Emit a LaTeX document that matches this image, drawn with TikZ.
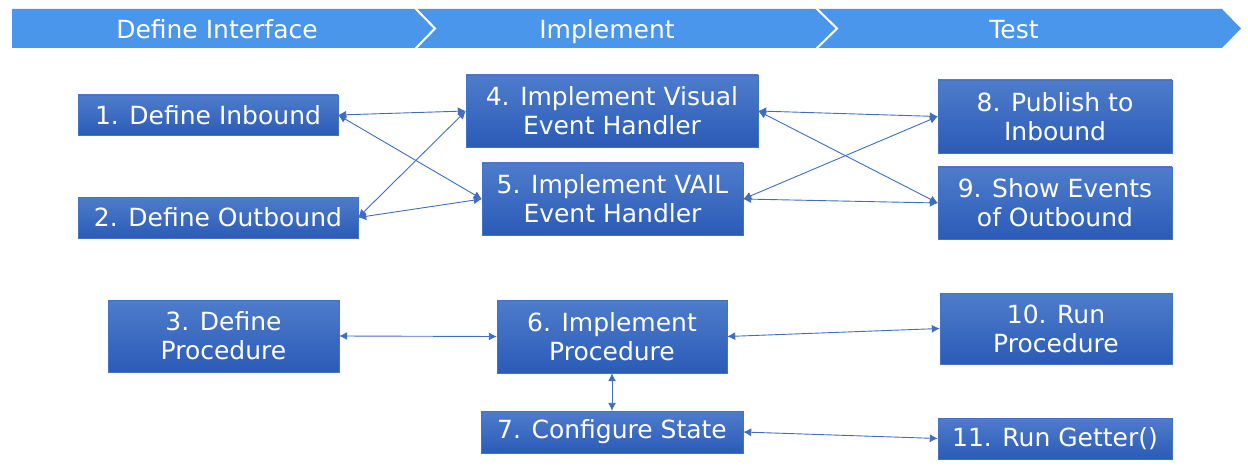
\documentclass[tikz,border=0pt]{standalone}
\usepackage{fontspec}
\setmainfont{DejaVu Sans}
\usepackage{xcolor}
\usepackage{tikz}
\usetikzlibrary{arrows.meta}
\definecolor{band}{HTML}{4A96EA}
\definecolor{boxtop}{HTML}{4F7CCB}
\definecolor{boxbot}{HTML}{2A5BB7}
\definecolor{boxedge}{HTML}{4472C4}
\definecolor{linkblue}{HTML}{3F6DC0}

\begin{document}
\begin{tikzpicture}[x=1pt,y=-1pt,font=\fontsize{25}{29}\selectfont,
    box/.style={draw=boxedge,top color=boxtop,bottom color=boxbot,text=white,align=center,inner sep=0pt},
    biarrow/.style={linkblue,line width=.9pt,{Latex[length=8pt,width=8pt]}-{Latex[length=8pt,width=8pt]}}]
    \useasboundingbox (0,0) rectangle (1248,468);
    % stage band
    \fill[band](12,9)--(1222,9)--(1241,28.5)--(1222,48)--(12,48)--cycle;
    \draw[white,line width=2pt](415,8)--(435,28.5)--(415,49); \draw[white,line width=2pt](816,8)--(837,28.5)--(816,49);
    \node[text=white,anchor=base] (sdef) at (217,39){Define Interface}; \node[text=white,anchor=base] (simp) at (607,39){Implement};
    \node[text=white,anchor=base] (stst) at (1014,39){Test};
    % steps
    \node[box,minimum width=260,minimum height=40] (n1) at (208,115){1. Define Inbound};
    \node[box,minimum width=280,minimum height=41] (n2) at (218,217.5){2. Define Outbound};
    \node[box,minimum width=231,minimum height=72] (n3) at (223.5,336){3. Define\\Procedure};
    \node[box,minimum width=292,minimum height=72] (n4) at (612,111){4. Implement Visual\\Event Handler};
    \node[box,minimum width=261,minimum height=72] (n5) at (612.5,199){5. Implement VAIL\\Event Handler};
    \node[box,minimum width=230,minimum height=73] (n6) at (612,336.5){6. Implement\\Procedure};
    \node[box,minimum width=262,minimum height=42] (n7) at (612,432){7. Configure State};
    \node[box,minimum width=234,minimum height=73] (n8) at (1055,116.5){8. Publish to\\Inbound};
    \node[box,minimum width=234,minimum height=72] (n9) at (1055,203){9. Show Events\\of Outbound};
    \node[box,minimum width=232,minimum height=71] (n10) at (1056,328.5){10. Run\\Procedure};
    \node[box,minimum width=234,minimum height=41] (n11) at (1055,438.5){11. Run Getter()};
    % links
    \draw[biarrow](n1.east)--(n4.west); \draw[biarrow](n1.east)--(n5.west);
    \draw[biarrow](n2.east)--(n4.west); \draw[biarrow](n2.east)--(n5.west);
    \draw[biarrow](n4.east)--(n8.west); \draw[biarrow](n4.east)--(n9.west);
    \draw[biarrow](n5.east)--(n8.west); \draw[biarrow](n5.east)--(n9.west);
    \draw[biarrow](n3.east)--(n6.west); \draw[biarrow](n6.east)--(n10.west);
    \draw[biarrow](n6.south)--(n7.north); \draw[biarrow](n7.east)--(n11.west);
  \end{tikzpicture}
\end{document}
